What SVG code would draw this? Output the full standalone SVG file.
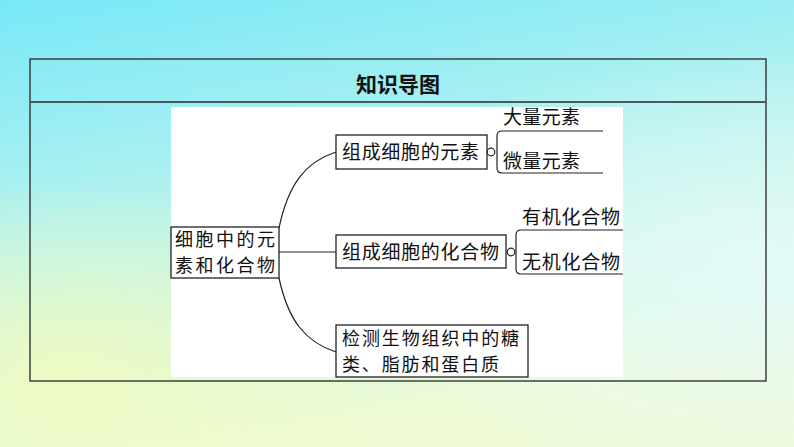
<svg xmlns="http://www.w3.org/2000/svg" width="794" height="447" viewBox="0 0 794 447">
<defs>
<linearGradient id="bg" x1="0" y1="0" x2="0.3" y2="1">
<stop offset="0" stop-color="#78e8f8"/>
<stop offset="0.5" stop-color="#b6f2ee"/>
<stop offset="1" stop-color="#effbd6"/>
</linearGradient>
<radialGradient id="yel" cx="0.08" cy="0.85" r="0.45">
<stop offset="0" stop-color="#f0fbc0" stop-opacity="0.9"/>
<stop offset="1" stop-color="#f0fbc0" stop-opacity="0"/>
</radialGradient>
<radialGradient id="rt" cx="0.95" cy="0.6" r="0.5">
<stop offset="0" stop-color="#e4fafc" stop-opacity="0.9"/>
<stop offset="1" stop-color="#e4fafc" stop-opacity="0"/>
</radialGradient>
<style>
.box{fill:#fff;stroke:#222;stroke-width:1.3}
.t{font-family:"Noto Sans CJK SC",sans-serif;font-size:19px;fill:#111}
.t2{font-family:"Noto Sans CJK SC",sans-serif;font-size:18px;fill:#111}
.ln{fill:none;stroke:#222;stroke-width:1.2}
</style>
</defs>
<rect width="794" height="447" fill="url(#bg)"/>
<rect width="794" height="447" fill="url(#yel)"/>
<rect width="794" height="447" fill="url(#rt)"/>
<g id="frame">
<rect x="30" y="59" width="736" height="322" fill="none" stroke="#333" stroke-width="1.4"/>
<line x1="30" y1="102" x2="766" y2="102" stroke="#4a5a5a" stroke-width="2"/>
<text x="398" y="92" text-anchor="middle" font-family="'Noto Sans CJK SC',sans-serif" font-size="21" font-weight="bold" fill="#111">知识导图</text>
</g>
<rect id="panel" x="171" y="107" width="452" height="270" fill="#fff"/>
<g id="connectors">
<path class="ln" d="M279,228 C288,185 305,162 336,152"/>
<line class="ln" x1="279" y1="252" x2="336" y2="252"/>
<path class="ln" d="M279,278 C288,320 305,342 336,352"/>
<circle class="ln" cx="491" cy="152" r="3.8"/>
<path class="ln" d="M603,131 H502 Q497,131 497,136 V168 Q497,173 502,173 H603"/>
<circle class="ln" cx="511" cy="252" r="3.8"/>
<path class="ln" d="M623,230 H521 Q516,230 516,235 V269 Q516,274 521,274 H623"/>
</g>
<g id="root">
<rect class="box" x="171" y="227" width="108" height="51"/>
<text class="t2" x="175" y="246" textLength="100">细胞中的元</text>
<text class="t2" x="175" y="272" textLength="100">素和化合物</text>
</g>
<g id="n1">
<rect class="box" x="336" y="135" width="151" height="34"/>
<text class="t" x="342" y="159" textLength="137">组成细胞的元素</text>
</g>
<g id="n1a"><text class="t" x="503" y="124" textLength="77">大量元素</text></g>
<g id="n1b"><text class="t" x="503" y="168" textLength="77">微量元素</text></g>
<g id="n2">
<rect class="box" x="336" y="235" width="170" height="33"/>
<text class="t" x="342" y="259" textLength="157">组成细胞的化合物</text>
</g>
<g id="n2a"><text class="t" x="522" y="224" textLength="98">有机化合物</text></g>
<g id="n2b"><text class="t" x="522" y="269" textLength="98">无机化合物</text></g>
<g id="n3">
<rect class="box" x="336" y="325" width="192" height="52"/>
<text class="t2" x="342" y="345" textLength="177">检测生物组织中的糖</text>
<text class="t2" x="342" y="371" textLength="157">类、脂肪和蛋白质</text>
</g>
</svg>
